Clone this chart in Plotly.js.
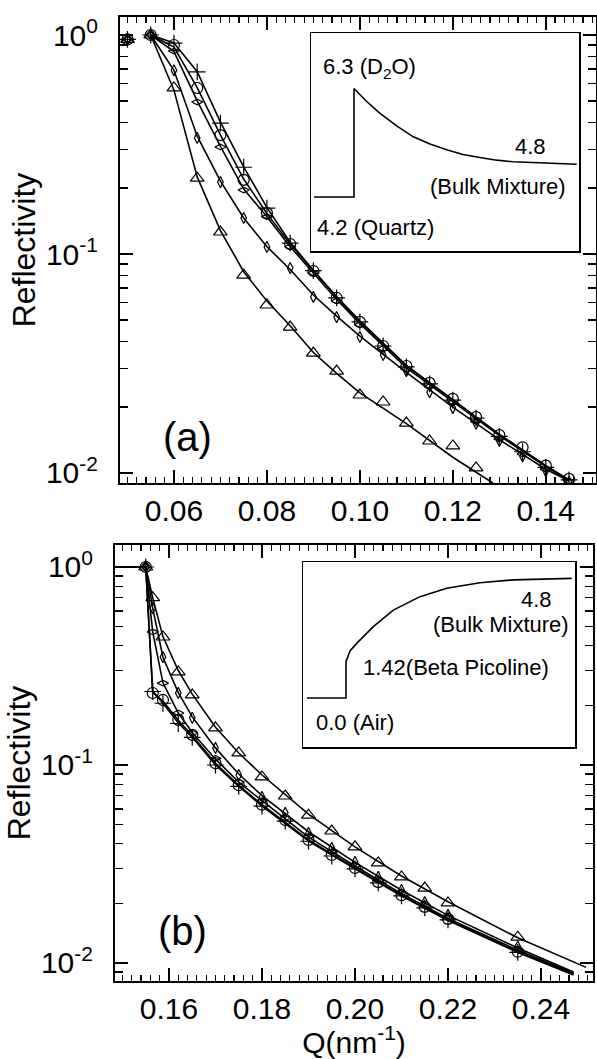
<!DOCTYPE html>
<html><head><meta charset="utf-8">
<script src="https://cdn.plot.ly/plotly-3.0.1.min.js"></script>
<style>html,body{margin:0;padding:0;background:#fff}#chart{width:597px;height:1059px}</style>
</head><body><div id="chart"></div>
<script>
// ---------- Panel (a): measured points ----------
const qA    = [0.050,0.055,0.060,0.065,0.070,0.075,0.080,0.085,0.090,0.095,0.100,0.105,0.110,0.115,0.120,0.125,0.130,0.135,0.140,0.145];
const aPlus = [0.955,1.0,0.918,0.678,0.396,0.249,0.162,0.112,0.084,0.063,0.049,0.038,0.0305,0.0255,0.0215,0.0178,0.0147,0.0125,0.0106,0.0093];
const aCirc = [0.955,1.0,0.900,0.573,0.349,0.218,0.154,0.111,0.0836,0.063,0.049,0.038,0.0308,0.0258,0.0218,0.0180,0.0149,0.0131,0.0108,0.0094];
const aWide = [0.955,1.0,0.845,0.494,0.308,0.196,0.148,0.108,0.082,0.061,0.0475,0.0370,0.0298,0.0248,0.0210,0.0172,0.0143,0.0122,0.0104,0.0092];
const aTall = [0.955,1.0,0.690,0.339,0.213,0.146,0.1077,0.0863,0.0637,0.0515,0.0418,0.0346,0.0292,0.0234,0.0198,0.0168,0.0140,0.0119,0.0102,0.0091];
const qATri = [0.050,0.055,0.060,0.065,0.070,0.075,0.080,0.085,0.090,0.095,0.100,0.105,0.110,0.115,0.120,0.125];
const aTri  = [0.955,1.0,0.573,0.222,0.126,0.080,0.0585,0.0464,0.0353,0.0292,0.0227,0.0211,0.0169,0.0140,0.0133,0.01055];
// ---------- Panel (a): fitted curves ----------
const qAFit    = [0.055,0.060,0.065,0.070,0.075,0.080,0.085,0.090,0.095,0.100,0.110,0.120,0.130,0.140,0.145];
const aPlusFit = [1.0,0.92,0.68,0.40,0.25,0.163,0.113,0.084,0.064,0.0495,0.0310,0.0215,0.0150,0.0108,0.0093];
const aCircFit = [1.0,0.88,0.575,0.35,0.22,0.153,0.111,0.0835,0.0635,0.049,0.0308,0.0216,0.0150,0.0108,0.0093];
const aWideFit = [1.0,0.84,0.50,0.31,0.198,0.148,0.108,0.0815,0.062,0.048,0.0302,0.0212,0.0148,0.0107,0.0092];
const aTallFit = [1.0,0.69,0.345,0.215,0.146,0.108,0.085,0.065,0.052,0.0422,0.0288,0.0200,0.0142,0.0104,0.0092];
const qATriFit = [0.055,0.060,0.065,0.070,0.075,0.080,0.085,0.090,0.095,0.100,0.110,0.120,0.1286];
const aTriFit  = [1.0,0.56,0.225,0.128,0.083,0.061,0.047,0.0355,0.0285,0.0232,0.0168,0.0118,0.0090];

// ---------- Panel (b): measured points ----------
const qB    = [0.155,0.1565,0.1587,0.162,0.165,0.170,0.175,0.180,0.185,0.190,0.195,0.200,0.205,0.210,0.215,0.220,0.235];
const bTri  = [1.0,0.70,0.443,0.295,0.226,0.154,0.115,0.087,0.0697,0.0558,0.0464,0.0386,0.0320,0.0272,0.0239,0.0201,0.0135];
const bTall = [1.0,0.62,0.351,0.231,0.173,0.122,0.089,0.069,0.0573,0.0454,0.0381,0.0324,0.0272,0.0234,0.0203,0.0175,0.0121];
const bWide = [1.0,0.47,0.259,0.183,0.145,0.108,0.082,0.066,0.054,0.0435,0.0365,0.0310,0.0262,0.0226,0.0196,0.0170,0.0117];
const bCirc = [1.0,0.231,0.213,0.169,0.142,0.102,0.079,0.063,0.0527,0.0418,0.0351,0.0302,0.0256,0.0220,0.0192,0.0167,0.0114];
const bPlus = [1.0,0.235,0.205,0.162,0.138,0.100,0.078,0.062,0.052,0.0412,0.0347,0.0299,0.0254,0.0218,0.0190,0.0165,0.0113];
// ---------- Panel (b): fitted curves ----------
const qBTriFit = [0.1484,0.155,0.1565,0.1587,0.162,0.165,0.170,0.175,0.180,0.190,0.200,0.210,0.220,0.235,0.2497];
const bTriFit  = [1.0,1.0,0.70,0.445,0.30,0.228,0.155,0.115,0.089,0.0565,0.0386,0.0275,0.0204,0.0134,0.0095];
const qBFit    = [0.1484,0.155,0.1565,0.1587,0.162,0.165,0.170,0.175,0.180,0.190,0.200,0.210,0.220,0.235,0.247];
const bTallFit = [1.0,1.0,0.62,0.35,0.232,0.175,0.122,0.090,0.070,0.046,0.0322,0.0233,0.0174,0.0119,0.0090];
const bWideFit = [1.0,1.0,0.47,0.26,0.183,0.146,0.107,0.082,0.066,0.0432,0.0309,0.0224,0.0168,0.0116,0.0089];
const bCircFit = [1.0,1.0,0.232,0.21,0.168,0.141,0.102,0.079,0.063,0.0418,0.0302,0.0220,0.0166,0.0114,0.0088];
const bPlusFit = [1.0,1.0,0.236,0.205,0.163,0.138,0.100,0.078,0.062,0.0413,0.0299,0.0218,0.0164,0.0113,0.0087];

// ---------- Insets: SLD profiles ----------
const zInA   = [-40,0,0,12.7,26,42.7,59.3,76,92.7,109,126,142.7,159,192.7,222.7];
const sldInA = [4.2,4.2,6.29,6.04,5.81,5.57,5.36,5.22,5.11,5.02,4.96,4.91,4.88,4.85,4.83];
const zInB   = [-39,0,0,4,10.7,27.3,47.3,74,100.7,134,167.3,225.7];
const sldInB = [0,0,1.43,1.85,2.15,2.81,3.46,3.99,4.32,4.54,4.65,4.71];

// ---------- Tick labels ----------
const yTickVals = [0.01,0.1,1];
const yTickText = ['10<sup>-2</sup>','10<sup>-1</sup>','10<sup>0</sup>'];
const yMinorA = [0.02,0.03,0.04,0.05,0.06,0.07,0.08,0.09,0.2,0.3,0.4,0.5,0.6,0.7,0.8,0.9];
const yMinorB = [0.009,0.02,0.03,0.04,0.05,0.06,0.07,0.08,0.09,0.2,0.3,0.4,0.5,0.6,0.7,0.8,0.9];

const FONT = 'Liberation Sans, Arial, sans-serif';
const K = '#000';
function mk(x, y, sym, size, xa, ya) {
  return {x, y, xaxis: xa, yaxis: ya, type: 'scatter', mode: 'markers', showlegend: false, hoverinfo: 'skip',
    marker: {symbol: sym, size: size, color: K, line: {color: K, width: 1.2}}};
}
function ln(x, y, xa, ya) {
  return {x, y, xaxis: xa, yaxis: ya, type: 'scatter', mode: 'lines', showlegend: false, hoverinfo: 'skip',
    line: {color: K, width: 1.6}};
}
const traces = [
  ln(qAFit, aPlusFit, 'x', 'y'), ln(qAFit, aCircFit, 'x', 'y'), ln(qAFit, aWideFit, 'x', 'y'),
  ln(qAFit, aTallFit, 'x', 'y'), ln(qATriFit, aTriFit, 'x', 'y'),
  mk(qA, aPlus, 'cross-thin-open', 12, 'x', 'y'),
  mk(qA, aCirc, 'circle-open', 11, 'x', 'y'),
  mk(qA, aWide, 'diamond-wide-open', 8, 'x', 'y'),
  mk(qA, aTall, 'diamond-tall-open', 8, 'x', 'y'),
  mk(qATri, aTri, 'triangle-up-open', 12, 'x', 'y'),

  ln(qBTriFit, bTriFit, 'x2', 'y2'), ln(qBFit, bTallFit, 'x2', 'y2'), ln(qBFit, bWideFit, 'x2', 'y2'),
  ln(qBFit, bCircFit, 'x2', 'y2'), ln(qBFit, bPlusFit, 'x2', 'y2'),
  mk(qB, bPlus, 'cross-thin-open', 12, 'x2', 'y2'),
  mk(qB, bCirc, 'circle-open', 11, 'x2', 'y2'),
  mk(qB, bWide, 'diamond-wide-open', 8, 'x2', 'y2'),
  mk(qB, bTall, 'diamond-tall-open', 8, 'x2', 'y2'),
  mk(qB, bTri, 'triangle-up-open', 12, 'x2', 'y2'),

  {x: zInA, y: sldInA, xaxis: 'x3', yaxis: 'y3', type: 'scatter', mode: 'lines', showlegend: false, hoverinfo: 'skip', line: {color: K, width: 1.6}},
  {x: zInB, y: sldInB, xaxis: 'x4', yaxis: 'y4', type: 'scatter', mode: 'lines', showlegend: false, hoverinfo: 'skip', line: {color: K, width: 1.6}}
];

const W = 597, H = 1059;
const px = v => v / W, py = v => 1 - v / H;

function xax(domain, range, anchor, extra) {
  return Object.assign({domain, range, anchor, dtick: 0.02, tick0: 0, tickformat: '.2f',
    ticks: 'inside', ticklen: 13, tickwidth: 1.5, tickcolor: K,
    minor: {dtick: 0.002, ticks: 'inside', ticklen: 6, tickwidth: 1.2, tickcolor: K},
    showline: true, linewidth: 2, linecolor: K, mirror: 'ticks', showgrid: false, zeroline: false,
    tickfont: {family: FONT, size: 30, color: K}}, extra || {});
}
function yax(domain, range, anchor, minorVals) {
  return {domain, range, anchor, type: 'log', tickmode: 'array', tickvals: yTickVals, ticktext: yTickText,
    ticks: 'inside', ticklen: 13, tickwidth: 1.5, tickcolor: K,
    minor: {tickmode: 'array', tickvals: minorVals, ticks: 'inside', ticklen: 8, tickwidth: 1.2, tickcolor: K},
    showline: true, linewidth: 2, linecolor: K, mirror: 'ticks', showgrid: false, zeroline: false,
    ticklabelstandoff: 14,
    tickfont: {family: FONT, size: 30, color: K},
    title: {text: 'Reflectivity', font: {family: FONT, size: 32, color: K}, standoff: 1}};
}
function inax(domain, range, anchor) {
  return {domain, range, anchor, showline: true, mirror: true, linewidth: 1.5, linecolor: K,
    ticks: '', showticklabels: false, showgrid: false, zeroline: false, fixedrange: true};
}
const AF = {family: FONT, size: 22, color: K};
function ann(text, x, y, xanchor, size) {
  return {text, x: px(x), y: py(y), xref: 'paper', yref: 'paper', xanchor, yanchor: 'middle',
    showarrow: false, font: size ? {family: FONT, size, color: K} : AF};
}

const layout = {
  width: W, height: H, margin: {l: 0, r: 0, t: 0, b: 0},
  paper_bgcolor: '#fff', plot_bgcolor: 'rgba(0,0,0,0)', showlegend: false,
  xaxis: xax([px(120), px(596)], [0.04839, 0.1508], 'y'),
  yaxis: yax([py(483), py(17)], [-2.0457, 0.0822], 'x', yMinorA),
  xaxis2: xax([px(115), px(593)], [0.14839, 0.25118], 'y2',
    {title: {text: 'Q(nm<sup>-1</sup>)', font: {family: FONT, size: 30, color: K}, standoff: 2}}),
  yaxis2: yax([py(981), py(545)], [-2.091, 0.111], 'x2', yMinorB),
  xaxis3: inax([px(311), px(579)], [-43, 225], 'y3'),
  yaxis3: inax([py(251), py(33)], [3.16, 7.36], 'x3'),
  xaxis4: inax([px(303), px(575)], [-43, 229], 'y4'),
  yaxis4: inax([py(747), py(562)], [-1.93, 5.354], 'x4'),
  annotations: [
    ann('6.3 (D<sub>2</sub>O)', 321, 68, 'left'),
    ann('4.8', 548, 146, 'right'),
    ann('(Bulk Mixture)', 568, 187, 'right'),
    ann('4.2 (Quartz)', 315, 227, 'left'),
    ann('4.8', 554, 599, 'right'),
    ann('(Bulk Mixture)', 571, 625, 'right'),
    ann('1.42(Beta Picoline)', 361, 667, 'left'),
    ann('0.0 (Air)', 314, 722, 'left'),
    ann('(a)', 187, 437, 'center', 40),
    ann('(b)', 182, 931, 'center', 40)
  ]
};
Plotly.newPlot('chart', traces, layout, {staticPlot: true, displayModeBar: false});
</script></body></html>
